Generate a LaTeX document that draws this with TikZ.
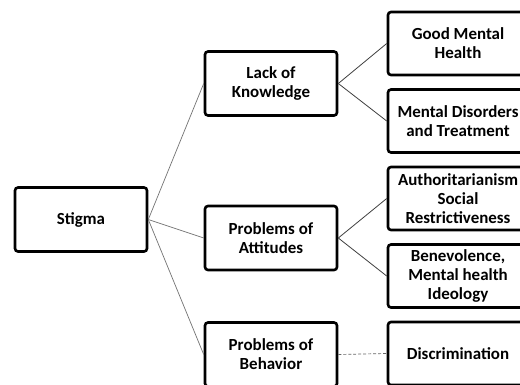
\documentclass[tikz,border=0pt]{standalone}
\usepackage{fontspec}
\setmainfont{Carlito}
\usepackage{tikz}
\tikzset{
    topic/.style = {rectangle, rounded corners=3bp, minimum width=132bp, minimum height=64bp, inner sep=0pt, align=center, draw=black, line width=2.6bp, fill=white, font=\fontsize{17}{19}\selectfont\bfseries},
    branch/.style = {topic},
    leaf/.style = {topic, minimum width=140bp, minimum height=63bp},
    link/.style = {line width=0.7bp, draw=black!55},
    leaflink/.style = {line width=0.8bp, draw=black!75},
    dashlink/.style = {line width=0.7bp, draw=black!60, densely dashed}
}
\begin{document}
\begin{tikzpicture}[x=1bp, y=-1bp, node distance=77.5bp]
\useasboundingbox (0,0) rectangle (520,384);
\clip (0,0) rectangle (520,384);
\fill[white] (0,0) rectangle (520,384);

\node (stigma) [topic] at (81,219.5) {Stigma};
\node (know) [branch] at (271,83.5) {Lack of\\Knowledge};
\node (attit) [branch] at (271,238) {Problems of\\Attitudes};
\node (behav) [branch] at (271,354.5) {Problems of\\Behavior};

\node (good) [leaf] at (458,43.5) {Good Mental\\Health};
\node (disord) [leaf, below of=good] {Mental Disorders\\and Treatment};
\node (author) [leaf, below of=disord] {Authoritarianism\\Social\\Restrictiveness};
\node (benev) [leaf, below of=author] {Benevolence,\\Mental health\\Ideology};
\node (discr) [leaf, below of=benev] {Discrimination};

\draw [link] (stigma.east) -- (know.west);
\draw [link] (stigma.east) -- (attit.west);
\draw [link] (stigma.east) -- (behav.west);
\draw [leaflink] (know.east) -- (good.west);
\draw [leaflink] (know.east) -- (disord.west);
\draw [leaflink] (attit.east) -- (author.west);
\draw [leaflink] (attit.east) -- (benev.west);
\draw [dashlink] (behav.east) -- (discr.west);
\end{tikzpicture}
\end{document}
